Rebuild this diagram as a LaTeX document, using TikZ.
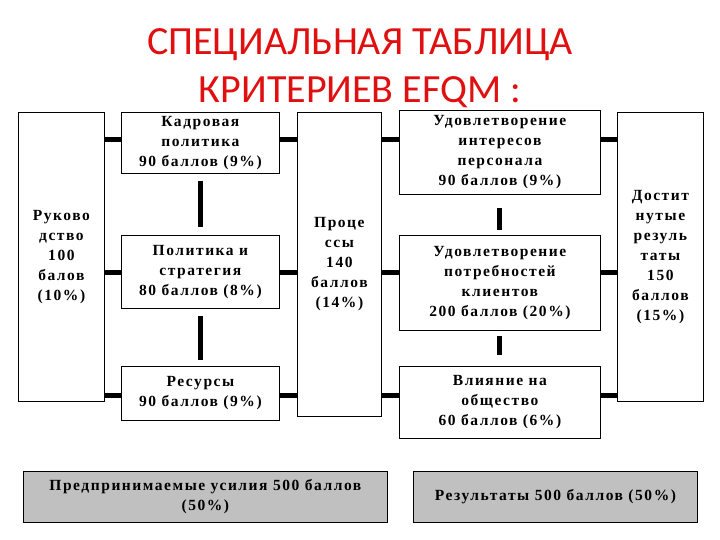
\documentclass[tikz,border=0pt]{standalone}
\usepackage{fontspec}
\setmainfont{Liberation Serif}
\newfontfamily\titlefont{Carlito}
\newfontfamily\boxfont[LetterSpace=10]{Liberation Serif}
\definecolor{ttl}{HTML}{E01010}
\definecolor{gbox}{HTML}{C0C0C0}
\begin{document}
\begin{tikzpicture}[x=1pt,y=-1pt,
  bx/.style={draw,line width=0.8pt,fill=white,align=center,font=\boxfont\bfseries\fontsize{15.5}{20}\selectfont,inner sep=0pt,anchor=north west},
  gb/.style={bx,fill=gbox},
  cn/.style={line width=5pt}]
\useasboundingbox (0,0) rectangle (720,540);
\node[font=\titlefont\fontsize{40}{48}\selectfont,text=ttl,align=center] (t) at (360,68) {СПЕЦИАЛЬНАЯ ТАБЛИЦА\\КРИТЕРИЕВ EFQM :};
\node[bx,minimum width=86,minimum height=289] (ruk) at (18,112) {Руково\\дство\\100\\балов\\(10\%)};
\node[bx,minimum width=158,minimum height=61] (kad) at (121,112) {Кадровая\\политика\\90 баллов (9\%)};
\node[bx,minimum width=158,minimum height=73] (pol) at (121,235) {Политика и\\стратегия\\80 баллов (8\%)};
\node[bx,minimum width=158,minimum height=54] (res) at (121,366) {Ресурсы\\90 баллов (9\%)};
\node[bx,minimum width=84,minimum height=304] (proc) at (297,112) {Проце\\ссы\\140\\баллов\\(14\%)};
\node[bx,minimum width=201,minimum height=84] (ud1) at (399,110) {Удовлетворение\\интересов\\персонала\\90 баллов (9\%)};
\node[bx,minimum width=201,minimum height=95] (ud2) at (399,235) {Удовлетворение\\потребностей\\клиентов\\200 баллов (20\%)};
\node[bx,minimum width=201,minimum height=72] (vl) at (399,366) {Влияние на\\общество\\60 баллов (6\%)};
\node[bx,minimum width=86,minimum height=289] (dos) at (617,112) {Достит\\нутые\\резуль\\таты\\150\\баллов\\(15\%)};
\node[gb,minimum width=364,minimum height=51] (b1) at (23,471) {Предпринимаемые усилия 500 баллов\\(50\%)};
\node[gb,minimum width=284,minimum height=51] (b2) at (413,471) {Результаты 500 баллов (50\%)};
% connectors
\foreach \n/\yy in {kad/140,pol/272,res/395}{
  \draw[cn] (ruk.east |- 0,\yy) -- (\n.west |- 0,\yy);
  \draw[cn] (\n.east |- 0,\yy) -- (proc.west |- 0,\yy);
  \draw[cn] (proc.east |- 0,\yy) -- (ud1.west |- 0,\yy);
  \draw[cn] (ud1.east |- 0,\yy) -- (dos.west |- 0,\yy);
}
\draw[cn] ([yshift=-7pt]kad.south) -- ([yshift=8pt]pol.north);
\draw[cn] ([yshift=-7pt]pol.south) -- ([yshift=6pt]res.north);
\draw[cn] ([yshift=-13pt]ud1.south) -- ([yshift=5pt]ud2.north);
\draw[cn] ([yshift=-5pt]ud2.south) -- ([yshift=11pt]vl.north);
\end{tikzpicture}
\end{document}
